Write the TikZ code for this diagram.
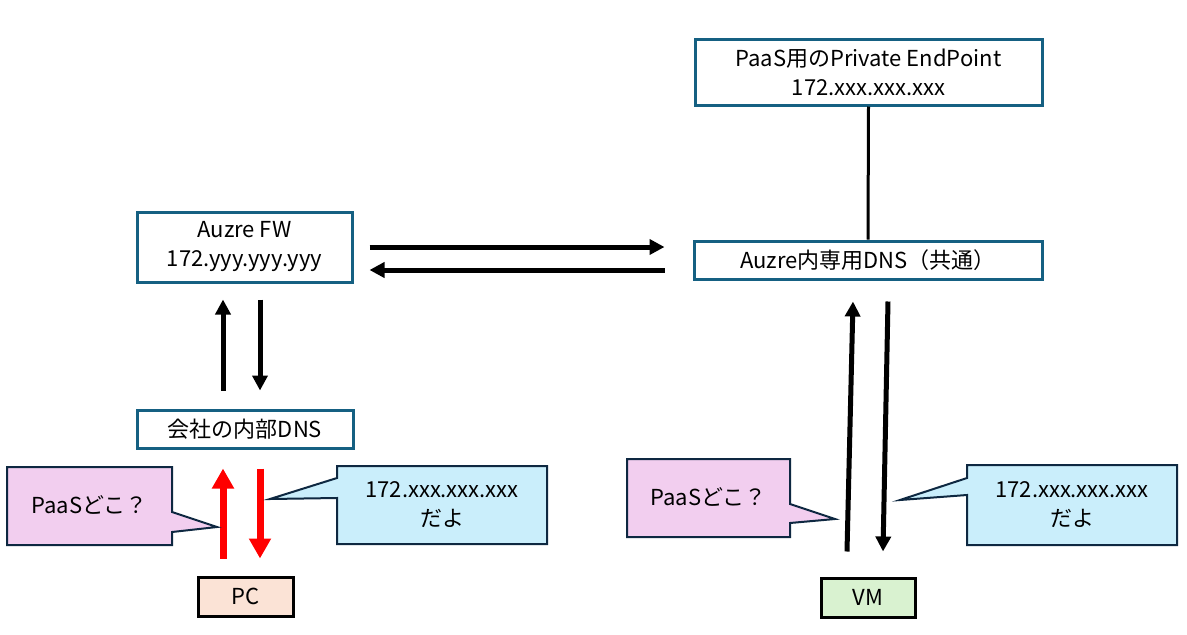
\documentclass[tikz,border=0pt]{standalone}
\usepackage{fontspec}
\setmainfont{Noto Sans CJK JP}
\usetikzlibrary{arrows.meta}
\definecolor{boxline}{HTML}{156082}
\definecolor{calline}{HTML}{0E2841}
\definecolor{askfill}{HTML}{F2CEEF}
\definecolor{ansfill}{HTML}{CAEEFB}
\definecolor{pcfill}{HTML}{FBE3D6}
\definecolor{vmfill}{HTML}{D9F2D0}
\begin{document}
\begin{tikzpicture}[x=1pt,y=-1pt,
  server/.style={draw=boxline, line width=3pt, fill=white, align=center, inner sep=0pt},
  client/.style={draw=black, line width=3pt, inner sep=0pt},
  callout/.style={draw=calline, line width=2pt, line join=miter},
  query/.style={line width=5pt, -{Triangle[length=15pt,width=15pt]}},
  redquery/.style={red, line width=7pt, -{Triangle[length=20pt,width=21pt]}},
  font=\fontsize{22}{29}\selectfont]
\useasboundingbox (0,0) rectangle (1187,635);
% draws servers
\node[server, minimum width=347pt, minimum height=66pt] (paas) at (868.5,72) {PaaS用のPrivate EndPoint\\172.xxx.xxx.xxx};
\node[server, minimum width=215pt, minimum height=70pt] (fw) at (244.5,247) {Auzre FW\\172.yyy.yyy.yyy};
\node[server, minimum width=348pt, minimum height=38pt] (adns) at (868,260) {Auzre内専用DNS（共通）};
\node[server, minimum width=216pt, minimum height=38pt] (cdns) at (245,429) {会社の内部DNS};
% draws clients
\node[client, fill=pcfill, minimum width=95pt, minimum height=39pt] (pc) at (245.5,596.5) {PC};
\node[client, fill=vmfill, minimum width=94pt, minimum height=39pt] (vm) at (868,597.5) {VM};
% draws links
\draw[line width=3pt] (paas.south) -- (adns.north);
\draw[query] ([xshift=16pt]fw.east) -- ([xshift=-28pt,yshift=13pt]adns.west);
\draw[query] ([xshift=-28pt,yshift=-10pt]adns.west) -- ([xshift=16pt,yshift=-23pt]fw.east);
\draw[query] ([xshift=-22pt,yshift=18pt]cdns.north) -- ([xshift=-21.5pt,yshift=-16pt]fw.south);
\draw[query] ([xshift=15.5pt,yshift=-16pt]fw.south) -- ([xshift=15pt,yshift=18pt]cdns.north);
\draw[redquery] ([xshift=-22.5pt,yshift=17pt]pc.north) -- ([xshift=-22pt,yshift=-19pt]cdns.south);
\draw[redquery] ([xshift=15pt,yshift=-19pt]cdns.south) -- ([xshift=14.5pt,yshift=17pt]pc.north);
\draw[query] ([xshift=-21pt,yshift=25pt]vm.north) -- ([xshift=-15pt,yshift=-21pt]adns.south);
\draw[query] ([xshift=20pt,yshift=-21pt]adns.south) -- ([xshift=15pt,yshift=25pt]vm.north);
% draws callouts
\draw[callout, fill=askfill] (7,467) -- (172,467) -- (172,512) -- (217,527) -- (172,532) -- (172,545) -- (7,545) -- cycle;
\node (askpc) at (89.5,505) {PaaSどこ？};
\draw[callout, fill=ansfill] (337,466) -- (547,466) -- (547,544) -- (337,544) -- (337,498) -- (270,499) -- (337,478) -- cycle;
\node[align=center] (anspc) at (442,505) {172.xxx.xxx.xxx\\だよ};
\draw[callout, fill=askfill] (627,459) -- (790,459) -- (790,504) -- (835,519) -- (790,523) -- (790,537) -- (627,537) -- cycle;
\node (askvm) at (708.5,497) {PaaSどこ？};
\draw[callout, fill=ansfill] (967,465) -- (1177,465) -- (1177,545) -- (967,545) -- (967,495) -- (900,500) -- (967,478) -- cycle;
\node[align=center] (ansvm) at (1072,505) {172.xxx.xxx.xxx\\だよ};
\end{tikzpicture}
\end{document}
